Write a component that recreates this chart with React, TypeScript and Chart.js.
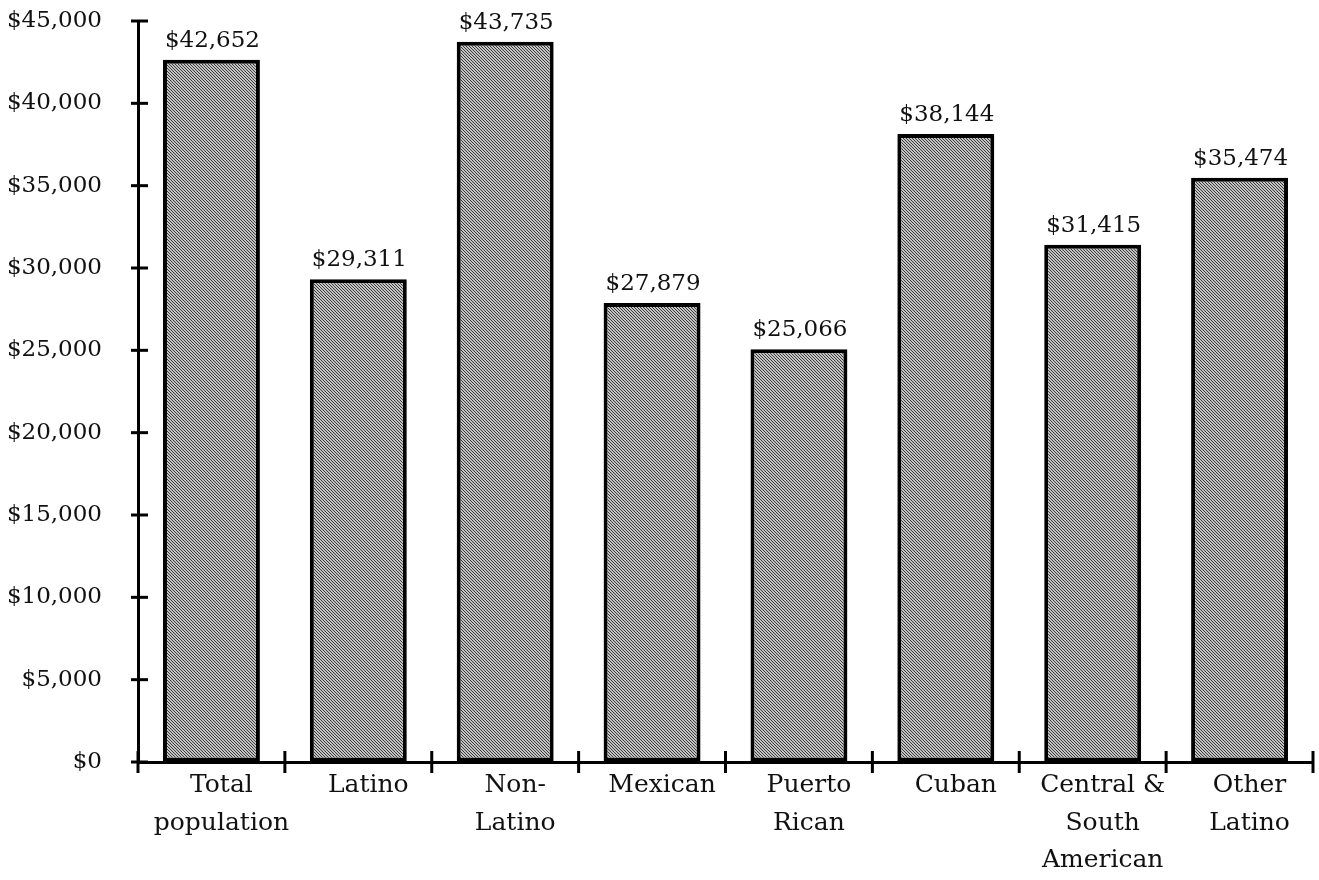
import React, { useEffect, useRef } from "react";
import { Chart, registerables } from "chart.js";

Chart.register(...registerables);

const categories: string[][] = [
  ["Total", "population"],
  ["Latino"],
  ["Non-", "Latino"],
  ["Mexican"],
  ["Puerto", "Rican"],
  ["Cuban"],
  ["Central &", "South", "American"],
  ["Other", "Latino"],
];
const incomes: number[] = [42652, 29311, 43735, 27879, 25066, 38144, 31415, 35474];
const yMin = 0;
const yMax = 45000;
const yStep = 5000;

const FONT = "'DejaVu Serif', 'Liberation Serif', serif";
const money = (v: number) => "$" + Number(v).toLocaleString("en-US");

function makePattern(): CanvasPattern | string {
  const c = document.createElement("canvas");
  c.width = 6;
  c.height = 6;
  const g = c.getContext("2d");
  if (!g) return "#969696";
  g.fillStyle = "#c2c2c2";
  g.fillRect(0, 0, 6, 6);
  g.fillStyle = "#3c3c3c";
  for (let y = 0; y < 6; y++) {
    for (let x = 0; x < 6; x++) {
      if ((((x - y) % 3) + 3) % 3 === 0) g.fillRect(x, y, 1, 1);
    }
  }
  const p = g.createPattern(c, "repeat");
  return p || "#969696";
}

const crossTicks = {
  id: "crossTicks",
  afterDraw(chart: any) {
    const ctx = chart.ctx;
    const xs = chart.scales.x;
    const ys = chart.scales.y;
    ctx.save();
    ctx.strokeStyle = "#000";
    ctx.lineWidth = 3;
    const axisX = chart.chartArea.left;
    const axisY = chart.chartArea.bottom;
    ys.ticks.forEach((t: any) => {
      const py = ys.getPixelForValue(t.value);
      ctx.beginPath();
      ctx.moveTo(axisX - 7, py);
      ctx.lineTo(axisX + 10, py);
      ctx.stroke();
    });
    for (let i = 0; i <= categories.length; i++) {
      const px = xs.getPixelForValue(i - 0.5);
      ctx.beginPath();
      ctx.moveTo(px, axisY - 11);
      ctx.lineTo(px, axisY + 11);
      ctx.stroke();
    }
    ctx.restore();
  },
};

const valueLabels = {
  id: "valueLabels",
  afterDatasetsDraw(chart: any) {
    const ctx = chart.ctx;
    const meta = chart.getDatasetMeta(0);
    ctx.save();
    ctx.fillStyle = "#111";
    ctx.font = `23px ${FONT}`;
    ctx.textAlign = "center";
    ctx.textBaseline = "alphabetic";
    meta.data.forEach((bar: any, i: number) => {
      ctx.fillText(money(incomes[i]), bar.x + 1, bar.y - 13);
    });
    ctx.restore();
  },
};

export default function App() {
  const ref = useRef<HTMLCanvasElement | null>(null);

  useEffect(() => {
    if (!ref.current) return;
    const fill = makePattern();
    const chart = new Chart(ref.current, {
      type: "bar",
      data: {
        labels: categories,
        datasets: [
          {
            data: incomes,
            backgroundColor: fill as any,
            borderColor: "#000",
            borderWidth: 4,
            borderSkipped: false,
            categoryPercentage: 1,
            barPercentage: 0.66,
          },
        ],
      },
      options: {
        responsive: false,
        animation: false,
        layout: { padding: { top: 21, right: 6, bottom: 0, left: 0 } },
        plugins: { legend: { display: false }, tooltip: { enabled: false } },
        scales: {
          x: {
            offset: true,
            grid: { display: true, drawOnChartArea: false, drawTicks: false },
            border: { display: true, color: "#000", width: 3 },
            ticks: {
              color: "#111",
              font: { family: FONT, size: 25, lineHeight: 1.5 },
              padding: 5,
              maxRotation: 0,
              autoSkip: false,
              labelOffset: 10,
            },
            afterFit(scale: any) {
              scale.height = 118;
            },
          },
          y: {
            min: yMin,
            max: yMax,
            grid: {
              display: true,
              drawOnChartArea: false,
              drawTicks: true,
              tickLength: 30,
              tickColor: "rgba(0,0,0,0)",
            },
            border: { display: true, color: "#000", width: 3 },
            ticks: {
              stepSize: yStep,
              color: "#111",
              font: { family: FONT, size: 23 },
              padding: 6,
              callback: (v: any) => money(Number(v)),
            },
            afterFit(scale: any) {
              scale.width = 138;
            },
          },
        },
      },
      plugins: [crossTicks, valueLabels],
    });
    return () => chart.destroy();
  }, []);

  return (
    <div style={{ position: "absolute", left: 0, top: 0, width: 1319, height: 880, background: "#fff" }}>
      <canvas ref={ref} width={1319} height={880} />
    </div>
  );
}
